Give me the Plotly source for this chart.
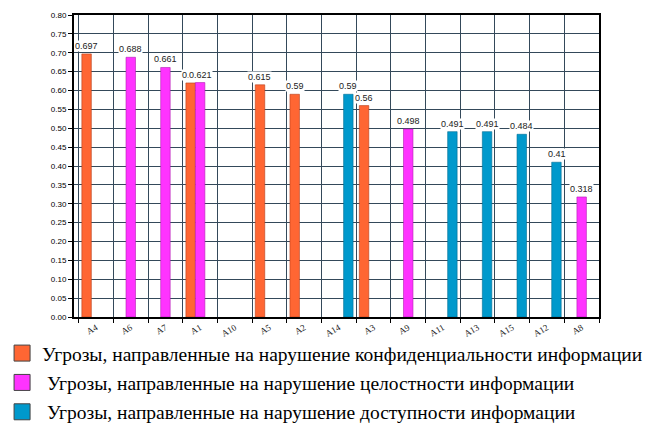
import plotly.graph_objects as go

# категории (порядок как на оси)
categories = ["A4", "A6", "A7", "A1", "A10", "A5", "A2", "A14", "A3",
              "A9", "A11", "A13", "A15", "A12", "A8"]

# значения по группам угроз
confidentiality = [0.697, None, None, 0.62, None, 0.615, 0.59, None, 0.56,
                   None, None, None, None, None, None]
integrity = [None, 0.688, 0.661, 0.621, None, None, None, None, None,
             0.498, None, None, None, None, 0.318]
availability = [None, None, None, None, None, None, None, 0.59, None,
                None, 0.491, 0.491, 0.484, 0.41, None]

series_names = [
    "Угрозы, направленные на нарушение конфиденциальности информации",
    " Угрозы, направленные на нарушение целостности информации",
    " Угрозы, направленные на нарушение доступности информации",
]
colors = ["#FF6633", "#FF33FF", "#0099CC"]
edge_colors = ["#B5401C", "#B020B0", "#006E94"]

W, H = 657, 439
# страница рисуется со сдвигом 8px (отступ body), поэтому поля сдвинуты
margin = dict(l=66, r=66, t=7, b=130, autoexpand=False)
bargap = 0.18

fig = go.Figure()
all_series = [confidentiality, integrity, availability]
for i, vals in enumerate(all_series):
    fig.add_trace(go.Bar(
        x=categories,
        y=vals,
        name=series_names[i],
        showlegend=False,
        marker=dict(color=colors[i], line=dict(color=edge_colors[i], width=0.6)),
    ))

# легенда с крупными квадратами (как в оригинале)
for i in range(3):
    fig.add_trace(go.Scatter(
        x=[None], y=[None], mode="markers",
        name=series_names[i],
        legendgroup=str(i),
        marker=dict(symbol="square", size=16, color=colors[i],
                    line=dict(color="#444444", width=1)),
    ))

# подписи значений над столбцами (белый фон, как в оригинале)
cat_w = (W - margin["l"] - margin["r"]) / len(categories)
bar_w = cat_w * (1 - bargap) / 3
annotations = []
for i, vals in enumerate(all_series):
    for c, v in zip(categories, vals):
        if v is None:
            continue
        annotations.append(dict(
            x=c, y=v, text=str(v), showarrow=False,
            xshift=(i - 1) * bar_w, yshift=2, yanchor="bottom",
            bgcolor="white", borderpad=0,
            font=dict(family="Liberation Sans", size=9, color="#222222"),
        ))

serif = "Liberation Serif"

fig.update_layout(
    width=W, height=H,
    margin=margin,
    barmode="group",
    bargap=bargap,
    bargroupgap=0,
    plot_bgcolor="white",
    paper_bgcolor="white",
    annotations=annotations,
    legend=dict(
        x=-0.137, y=-0.056, xanchor="left", yanchor="top",
        traceorder="grouped", tracegroupgap=1,
        font=dict(family=serif, size=19.5, color="black"),
        bgcolor="rgba(0,0,0,0)",
    ),
    xaxis=dict(
        type="category",
        categoryorder="array", categoryarray=categories,
        tickson="boundaries",
        ticks="outside", ticklen=4, tickcolor="black",
        tickangle=-30,
        tickfont=dict(family=serif, size=9, color="#222222"),
        showgrid=True, gridcolor="#34495A", gridwidth=1,
        showline=True, linecolor="black", linewidth=2, mirror=True,
    ),
    yaxis=dict(
        range=[0, 0.8], dtick=0.05, tickformat=".2f",
        ticks="outside", ticklen=4, tickcolor="black",
        tickfont=dict(family="Liberation Sans", size=8, color="black"),
        showgrid=True, gridcolor="#34495A", gridwidth=1,
        zeroline=False,
        showline=True, linecolor="black", linewidth=2, mirror=True,
    ),
)

fig.write_html("out.html")
